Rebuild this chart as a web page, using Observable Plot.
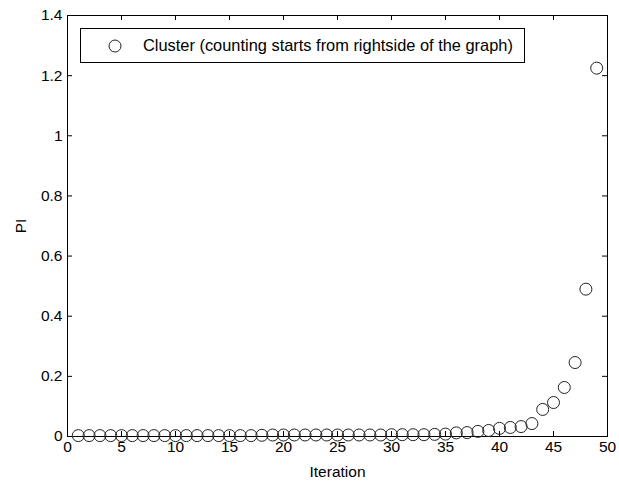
<!DOCTYPE html>
<html>
<head>
<meta charset="utf-8">
<script src="https://cdn.jsdelivr.net/npm/d3@7"></script>
<script src="https://cdn.jsdelivr.net/npm/@observablehq/plot@0.6"></script>
<style>
  html, body { margin: 0; padding: 0; background: #fff; }
  #wrap { position: relative; width: 619px; height: 484px; font-family: "Liberation Sans", Arial, sans-serif; }
  #legend { position: absolute; left: 80px; top: 28px; width: 445px; height: 35px; border: 1px solid #000; background: #fff;
            box-sizing: border-box; font-size: 16.4px; color: #000; display: flex; align-items: center; }
  #legend svg { margin-left: 27px; margin-right: 21px; }
</style>
</head>
<body>
<div id="wrap"></div>
<script>
const iterations = [1,2,3,4,5,6,7,8,9,10,11,12,13,14,15,16,17,18,19,20,21,22,23,24,25,26,27,28,29,30,31,32,33,34,35,36,37,38,39,40,41,42,43,44,45,46,47,48,49];
const piValues = [0.003,0.003,0.003,0.003,0.003,0.003,0.003,0.003,0.003,0.003,0.003,0.003,0.003,0.003,0.003,0.003,0.003,0.004,0.005,0.005,0.005,0.005,0.005,0.005,0.005,0.005,0.005,0.005,0.005,0.006,0.006,0.006,0.006,0.007,0.008,0.012,0.013,0.017,0.02,0.027,0.03,0.033,0.043,0.09,0.113,0.163,0.246,0.49,1.225];
const xTicks = [0,5,10,15,20,25,30,35,40,45,50];
const yTicks = [0,0.2,0.4,0.6,0.8,1,1.2,1.4];
const legendLabel = "Cluster (counting starts from rightside of the graph)";
const xLabel = "Iteration";
const yLabel = "PI";

const data = iterations.map((it, i) => ({it, pi: piValues[i]}));
const fmt = d => String(+d.toFixed(1));

const W = 619, H = 484, mL = 67, mR = 12, mT = 15, mB = 48;
const pw = W - mL - mR, ph = H - mT - mB;

const chart = Plot.plot({
  width: W, height: H,
  marginLeft: mL, marginRight: mR, marginTop: mT, marginBottom: mB,
  style: {fontFamily: "'Liberation Sans', Arial, sans-serif", fontSize: "15.5px", color: "#000", background: "#fff"},
  x: {domain: [0, 50]},
  y: {domain: [0, 1.4]},
  marks: [
    Plot.frame({stroke: "#000", strokeWidth: 1}),
    Plot.tickX(xTicks, {x: d => d, stroke: "#000", insetTop: ph - 5}),
    Plot.tickX(xTicks, {x: d => d, stroke: "#000", insetBottom: ph - 5}),
    Plot.tickY(yTicks, {y: d => d, stroke: "#000", insetRight: pw - 5}),
    Plot.tickY(yTicks, {y: d => d, stroke: "#000", insetLeft: pw - 5}),
    Plot.axisX(xTicks, {tickSize: 0, tickPadding: 4, tickFormat: fmt, label: xLabel, labelAnchor: "center", labelArrow: "none", labelOffset: 40}),
    Plot.axisY(yTicks, {tickSize: 0, tickPadding: 5, tickFormat: fmt, label: yLabel, labelAnchor: "center", labelArrow: "none", labelOffset: 53}),
    Plot.dot(data, {x: "it", y: "pi", r: 6, stroke: "#222", strokeWidth: 1, fill: "none"})
  ]
});
const wrap = document.getElementById("wrap");
wrap.appendChild(chart);
const leg = document.createElement("div");
leg.id = "legend";
leg.innerHTML = '<svg width="14" height="14"><circle cx="7" cy="7" r="6" fill="none" stroke="#222"/></svg><span></span>';
leg.querySelector("span").textContent = legendLabel;
wrap.appendChild(leg);
</script>
</body>
</html>
